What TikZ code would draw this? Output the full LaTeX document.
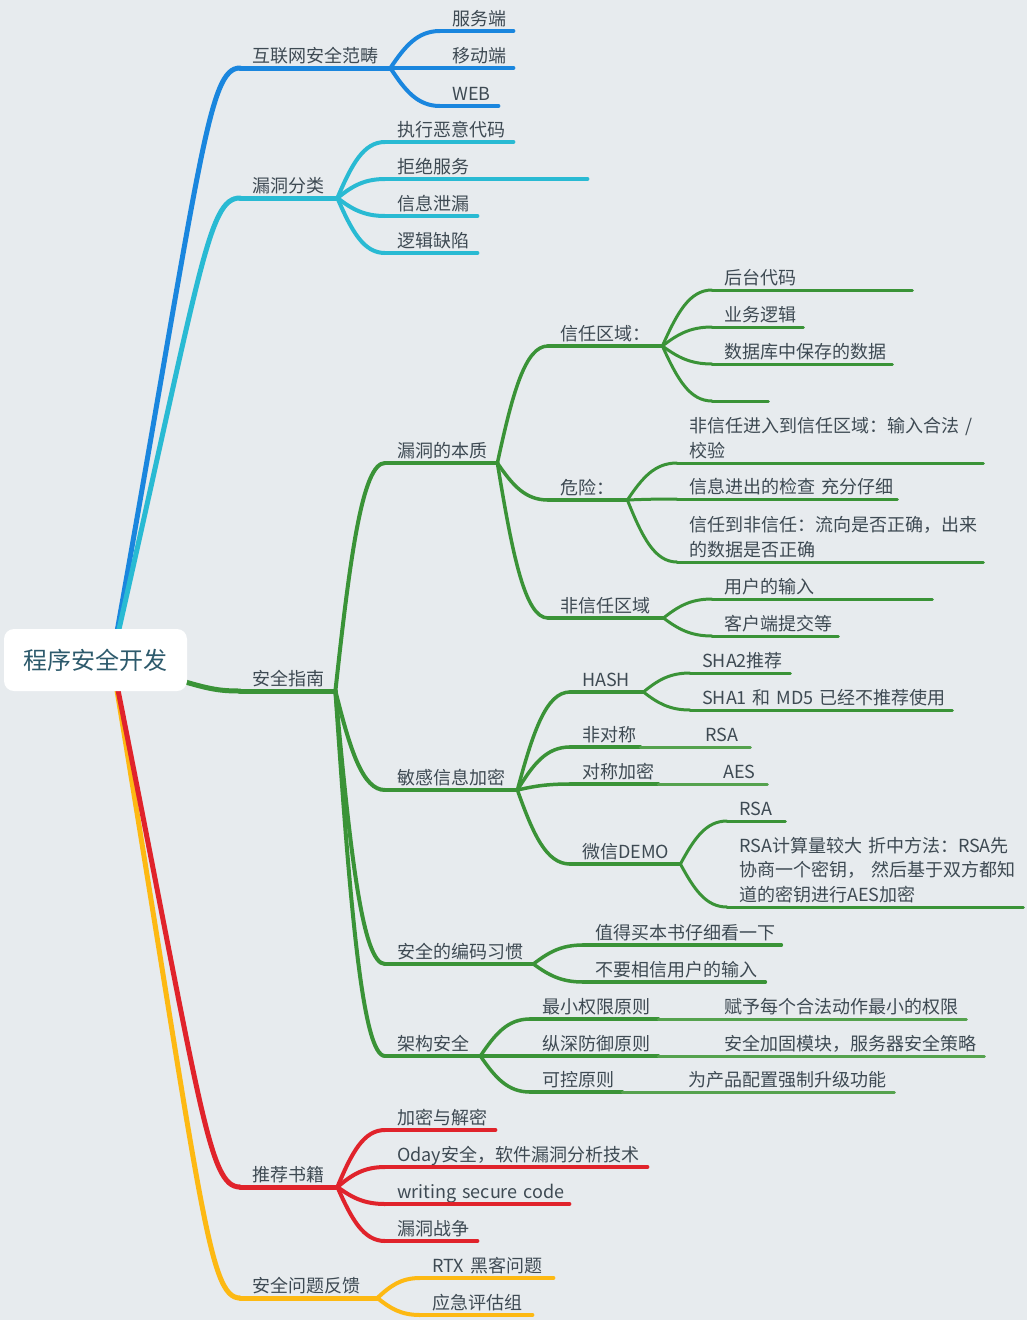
\documentclass[tikz,border=0pt]{standalone}
\usepackage{fontspec}
\setmainfont{Noto Sans CJK SC}
\usetikzlibrary{calc}

\definecolor{fundo}{HTML}{E7EBEE}
\definecolor{txtcol}{HTML}{3E4A53}
\definecolor{rootcol}{HTML}{2D5A6C}
\definecolor{cblue}{HTML}{1A86DE}
\definecolor{ccyan}{HTML}{29BAD3}
\definecolor{cgreen}{HTML}{3A9337}
\definecolor{cgreenl}{HTML}{55A24E}
\definecolor{cred}{HTML}{E0232B}
\definecolor{cyellow}{HTML}{FDB913}

\tikzset{
  lv1/.style={draw=#1, line width=5pt, line cap=round},
  lv2/.style={draw=#1, line width=4pt, line cap=round},
  lv3/.style={draw=#1, line width=3.5pt, line cap=round},
  lv4/.style={draw=#1, line width=3pt, line cap=round},
  topic/.style 2 args={anchor=south west, inner xsep=12pt, inner ysep=0pt,
    text depth=5.8pt, text width=#2, align=left, text=txtcol,
    font=\fontsize{18}{24.5}\selectfont,
    append after command={(\tikzlastnode.south west) edge[#1] (\tikzlastnode.south east)}},
  rootbox/.style={fill=white, rounded corners=10pt, inner sep=0pt,
    minimum width=183pt, minimum height=62pt, text=rootcol,
    font=\fontsize{24}{28}\selectfont},
  link/.style={to path={let \p1=(\tikztostart), \p2=(\tikztotarget) in
    .. controls ({\x1+0.3*(\x2-\x1)},{\y1+0.6*(\y2-\y1)})
    and ({\x1+0.55*(\x2-\x1)},\y2) .. (\tikztotarget)}},
  rootlink/.style={to path={let \p1=(\tikztostart), \p2=(\tikztotarget) in
    .. controls ({\x1+0.7*(\x2-\x1)},{\y1+0.85*(\y2-\y1)})
    and ({\x1+0.75*(\x2-\x1)},\y2) .. (\tikztotarget)}},
}

\begin{document}
\begin{tikzpicture}[x=1pt, y=-1pt]

% FUNDO
\useasboundingbox (0,0) rectangle (1027,1320);
\fill[fundo] (0,0) rectangle (1027,1320);

\coordinate (hub) at (112,660);

% NIVEL 1
\node[topic={lv1=cblue}{126pt}] (net) at (240,68) {互联网安全范畴};
\node[topic={lv1=ccyan}{73pt}] (vul) at (240,198) {漏洞分类};
\node[topic={lv1=cgreen}{71pt}] (guide) at (240,691) {安全指南};
\node[topic={lv1=cred}{73pt}] (book) at (240,1187) {推荐书籍};
\node[topic={lv1=cyellow}{113pt}] (fb) at (240,1298) {安全问题反馈};

% RAMO AZUL
\node[topic={lv2=cblue}{49pt}] (srv) at (440,31) {服务端};
\node[topic={lv2=cblue}{49pt}] (mob) at (440,68) {移动端};
\node[topic={lv2=cblue}{34pt}] (web) at (440,106) {WEB};

% RAMO CIANO
\node[topic={lv2=ccyan}{104pt}] (exe) at (385,142) {执行恶意代码};
\node[topic={lv2=ccyan}{178pt}] (dos) at (385,179) {拒绝服务};
\node[topic={lv2=ccyan}{68pt}] (leak) at (385,216) {信息泄漏};
\node[topic={lv2=ccyan}{68pt}] (flaw) at (385,253) {逻辑缺陷};

% RAMO VERDE
\node[topic={lv2=cgreen}{88pt}] (ess) at (385,463) {漏洞的本质};
\node[topic={lv2=cgreen}{108pt}] (enc) at (385,790) {敏感信息加密};
\node[topic={lv2=cgreen}{124pt}] (habit) at (385,964) {安全的编码习惯};
\node[topic={lv2=cgreen}{71pt}] (arch) at (385,1056) {架构安全};

% VERDE: ESSENCIA
\node[topic={lv3=cgreen}{90pt}] (trust) at (548,346) {信任区域：};
\node[topic={lv3=cgreen}{55pt}] (risk) at (548,500) {危险：};
\node[topic={lv3=cgreen}{91pt}] (untrust) at (548,618) {非信任区域};

\node[topic={lv4=cgreen}{176pt}] (back) at (712,290) {后台代码};
\node[topic={lv4=cgreen}{67pt}] (biz) at (712,327) {业务逻辑};
\node[topic={lv4=cgreen}{156pt}] (dbase) at (712,364) {数据库中保存的数据};
\node[topic={lv4=cgreen}{32pt}] (blank) at (712,401) {};

\node[topic={lv4=cgreen}{282pt}, text depth=30.3pt] (inward) at (677,463)
{非信任进入到信任区域：输入合法~/\\校验};
\node[topic={lv4=cgreen}{196pt}] (check) at (677,499) {信息进出的检查~充分仔细};
\node[topic={lv4=cgreen}{282pt}, text depth=30.3pt] (outward) at (677,562)
{信任到非信任：流向是否正确，出来\\的数据是否正确};

\node[topic={lv4=cgreen}{196pt}] (uinput) at (712,599) {用户的输入};
\node[topic={lv4=cgreen}{102pt}] (client) at (712,636) {客户端提交等};

% VERDE: CRIPTOGRAFIA
\node[topic={lv3=cgreen}{49pt}] (hash) at (570,692) {HASH};
\node[topic={lv3=cgreen}{46pt}] (asym) at (570,747) {非对称};
\node[topic={lv3=cgreen}{64pt}] (sym) at (570,784) {对称加密};
\node[topic={lv3=cgreen}{86pt}] (wx) at (570,864) {微信DEMO};

\node[topic={lv4=cgreen}{76pt}] (sha2) at (690,673) {SHA2推荐};
\node[topic={lv4=cgreen}{238pt}] (sha1) at (690,710) {\mbox{SHA1 和 MD5 已经不推荐使用}};
\node[topic={lv4=cgreenl}{33pt}] (rsa) at (693,747) {RSA};
\node[topic={lv4=cgreenl}{32pt}] (aes) at (711,784) {AES};
\node[topic={lv4=cgreen}{34pt}] (wxrsa) at (727,821) {RSA};
\node[topic={lv4=cgreen}{272pt}, text depth=54.8pt] (wxaes) at (727,907)
{RSA计算量较大~折中方法：RSA先\\协商一个密钥，~然后基于双方都知\\道的密钥进行AES加密};

% VERDE: HABITOS
\node[topic={lv3=cgreen}{174pt}] (worth) at (583,945) {值得买本书仔细看一下};
\node[topic={lv3=cgreen}{158pt}] (noinput) at (583,982) {不要相信用户的输入};

% VERDE: ARQUITETURA
\node[topic={lv3=cgreen}{104pt}] (least) at (530,1019) {最小权限原则};
\node[topic={lv3=cgreen}{104pt}] (defense) at (530,1056) {纵深防御原则};
\node[topic={lv3=cgreen}{68pt}] (ctrl) at (530,1092) {可控原则};

\node[topic={lv4=cgreenl}{230pt}] (leastx) at (712,1019) {赋予每个合法动作最小的权限};
\node[topic={lv4=cgreenl}{248pt}] (defx) at (712,1056) {安全加固模块，服务器安全策略};
\node[topic={lv4=cgreenl}{194pt}] (ctrlx) at (676,1092) {为产品配置强制升级功能};

% RAMO VERMELHO
\node[topic={lv2=cred}{86pt}] (b1) at (385,1130) {加密与解密};
\node[topic={lv2=cred}{238pt}] (b2) at (385,1167) {Oday安全，软件漏洞分析技术};
\node[topic={lv2=cred}{160pt}] (b3) at (385,1204) {\mbox{writing secure code}};
\node[topic={lv2=cred}{68pt}] (b4) at (385,1241) {漏洞战争};

% RAMO AMARELO
\node[topic={lv2=cyellow}{109pt}] (f1) at (420,1278) {\mbox{RTX 黑客问题}};
\node[topic={lv2=cyellow}{88pt}] (f2) at (420,1315) {应急评估组};

% LIGACOES DA RAIZ
\draw[lv1=cblue] (hub) to[rootlink] (net.south west);
\draw[lv1=ccyan] (hub) to[rootlink] (vul.south west);
\draw[lv1=cyellow] (hub) to[rootlink] (fb.south west);
\draw[lv1=cred] (hub) to[rootlink] (book.south west);
\draw[lv1=cgreen] (hub) to[rootlink] (guide.south west);

% LIGACOES NIVEL 2
\draw[lv2=cblue] (net.south east) to[link] (srv.south west);
\draw[lv2=cblue] (net.south east) to[link] (mob.south west);
\draw[lv2=cblue] (net.south east) to[link] (web.south west);

\draw[lv2=ccyan] (vul.south east) to[link] (exe.south west);
\draw[lv2=ccyan] (vul.south east) to[link] (dos.south west);
\draw[lv2=ccyan] (vul.south east) to[link] (leak.south west);
\draw[lv2=ccyan] (vul.south east) to[link] (flaw.south west);

\draw[lv2=cgreen] (guide.south east) to[link] (ess.south west);
\draw[lv2=cgreen] (guide.south east) to[link] (enc.south west);
\draw[lv2=cgreen] (guide.south east) to[link] (habit.south west);
\draw[lv2=cgreen] (guide.south east) to[link] (arch.south west);

\draw[lv2=cred] (book.south east) to[link] (b1.south west);
\draw[lv2=cred] (book.south east) to[link] (b2.south west);
\draw[lv2=cred] (book.south east) to[link] (b3.south west);
\draw[lv2=cred] (book.south east) to[link] (b4.south west);

\draw[lv2=cyellow] (fb.south east) to[link] (f1.south west);
\draw[lv2=cyellow] (fb.south east) to[link] (f2.south west);

% LIGACOES NIVEL 3
\draw[lv3=cgreen] (ess.south east) to[link] (trust.south west);
\draw[lv3=cgreen] (ess.south east) to[link] (risk.south west);
\draw[lv3=cgreen] (ess.south east) to[link] (untrust.south west);

\draw[lv3=cgreen] (enc.south east) to[link] (hash.south west);
\draw[lv3=cgreen] (enc.south east) to[link] (asym.south west);
\draw[lv3=cgreen] (enc.south east) to[link] (sym.south west);
\draw[lv3=cgreen] (enc.south east) to[link] (wx.south west);

\draw[lv3=cgreen] (habit.south east) to[link] (worth.south west);
\draw[lv3=cgreen] (habit.south east) to[link] (noinput.south west);

\draw[lv3=cgreen] (arch.south east) to[link] (least.south west);
\draw[lv3=cgreen] (arch.south east) to[link] (defense.south west);
\draw[lv3=cgreen] (arch.south east) to[link] (ctrl.south west);

% LIGACOES NIVEL 4
\draw[lv4=cgreen] (trust.south east) to[link] (back.south west);
\draw[lv4=cgreen] (trust.south east) to[link] (biz.south west);
\draw[lv4=cgreen] (trust.south east) to[link] (dbase.south west);
\draw[lv4=cgreen] (trust.south east) to[link] (blank.south west);

\draw[lv4=cgreen] (risk.south east) to[link] (inward.south west);
\draw[lv4=cgreen] (risk.south east) to[link] (check.south west);
\draw[lv4=cgreen] (risk.south east) to[link] (outward.south west);

\draw[lv4=cgreen] (untrust.south east) to[link] (uinput.south west);
\draw[lv4=cgreen] (untrust.south east) to[link] (client.south west);

\draw[lv4=cgreen] (hash.south east) to[link] (sha2.south west);
\draw[lv4=cgreen] (hash.south east) to[link] (sha1.south west);
\draw[lv4=cgreenl] (asym.south east) -- (rsa.south west);
\draw[lv4=cgreenl] (sym.south east) -- (aes.south west);
\draw[lv4=cgreen] (wx.south east) to[link] (wxrsa.south west);
\draw[lv4=cgreen] (wx.south east) to[link] (wxaes.south west);

\draw[lv4=cgreenl] (least.south east) -- (leastx.south west);
\draw[lv4=cgreenl] (defense.south east) -- (defx.south west);
\draw[lv4=cgreenl] (ctrl.south east) -- (ctrlx.south west);

% RAIZ
\node[rootbox] (root) at (95.5,660) {程序安全开发};

\end{tikzpicture}
\end{document}
